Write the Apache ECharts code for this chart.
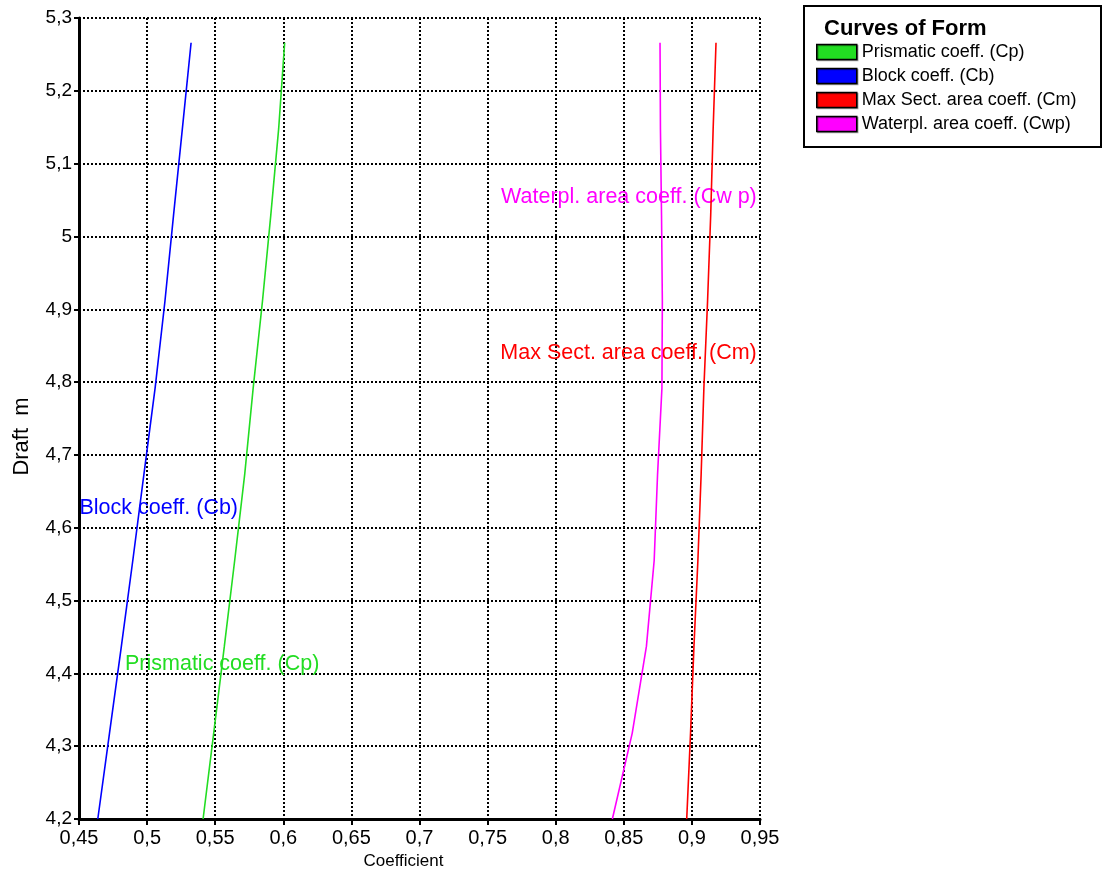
<!DOCTYPE html>
<html>
<head>
<meta charset="utf-8">
<script src="https://cdn.jsdelivr.net/npm/echarts@6/dist/echarts.min.js"></script>
<style>
html,body{margin:0;padding:0;background:#fff;}
#chart{width:1104px;height:875px;}
</style>
</head>
<body>
<div id="chart"></div>
<script>
// Draft values (m)
const drafts = [4.2, 4.318, 4.437, 4.555, 4.674, 4.792, 4.911, 5.029, 5.148, 5.266];
// Coefficients
const prismatic = [0.5411, 0.5489, 0.5567, 0.5643, 0.5717, 0.5779, 0.5847, 0.5908, 0.5966, 0.6010];
const block     = [0.4638, 0.4724, 0.4811, 0.4895, 0.4977, 0.5059, 0.5131, 0.5194, 0.5259, 0.5323];
const maxSect   = [0.8962, 0.8990, 0.9015, 0.9044, 0.9068, 0.9088, 0.9115, 0.9138, 0.9156, 0.9177];
const waterpl   = [0.8416, 0.8562, 0.8666, 0.8723, 0.8748, 0.8780, 0.8783, 0.8777, 0.8769, 0.8766];

const seriesNames = ['Prismatic coeff. (Cp)', 'Block coeff. (Cb)', 'Max Sect. area coeff. (Cm)', 'Waterpl. area coeff. (Cwp)'];
const inlineLabels = ['Prismatic coeff. (Cp)', 'Block coeff. (Cb)', 'Max Sect. area coeff. (Cm)', 'Waterpl. area coeff. (Cw p)'];
const xTicks = {min: 0.45, max: 0.95, step: 0.05};
const yTicks = {min: 4.2, max: 5.3, step: 0.1};
const legendTitle = 'Curves of Form';
const xName = 'Coefficient';
const yName = 'Draft  m';

const colors = ['#22dd22', '#0000ff', '#ff0000', '#ff00ff'];
const FONT = '"Liberation Sans", Arial, sans-serif';

function pairs(xs){ return xs.map((x,i)=>[x, drafts[i]]); }
function fmt(v){ return String(Math.round(v*100)/100).replace('.', ','); }

const labelSpots = [
  {coord:[0.4834, 4.413], pos:'right'},
  {coord:[0.45, 4.627], pos:'right'},
  {coord:[0.948, 4.840], pos:'left'},
  {coord:[0.948, 5.054], pos:'left'}
];
const dataSets = [prismatic, block, maxSect, waterpl];

const chart = echarts.init(document.getElementById('chart'), null, {renderer:'canvas'});
const option = {
  animation: false,
  backgroundColor: '#fff',
  title: {
    text: legendTitle, left: 819, top: 13,
    textStyle: {fontFamily: FONT, fontSize: 22, fontWeight: 'bold', color: '#000'}
  },
  graphic: [{
    type: 'rect', left: 803, top: 5, z: -1,
    shape: {width: 297, height: 141},
    style: {fill: '#fff', stroke: '#000', lineWidth: 2}
  }],
  legend: {
    orient: 'vertical', left: 811, top: 38,
    itemWidth: 40, itemHeight: 15, itemGap: 6,
    icon: 'rect',
    itemStyle: {borderColor: '#000', borderWidth: 1.5, shadowColor: 'rgba(0,0,0,0.35)', shadowOffsetX: 1, shadowOffsetY: 1},
    textStyle: {fontFamily: FONT, fontSize: 18, color: '#000'},
    data: seriesNames
  },
  grid: {left: 79, right: 344, top: 18, bottom: 56, containLabel: false},
  xAxis: {
    type: 'value', min: xTicks.min, max: xTicks.max, interval: xTicks.step,
    name: xName, nameLocation: 'middle', nameGap: 32,
    nameTextStyle: {fontFamily: FONT, fontSize: 17, color: '#000', padding: [0, 32, 0, 0]},
    axisLine: {show: true, onZero: false, lineStyle: {color: '#000', width: 3}},
    axisTick: {show: true, inside: false, length: 6, lineStyle: {color: '#000', width: 2}},
    axisLabel: {fontFamily: FONT, fontSize: 20, color: '#000', margin: 9, formatter: fmt, showMinLabel: true, showMaxLabel: true},
    splitLine: {show: true, lineStyle: {color: '#000', width: 2, type: [2, 2]}}
  },
  yAxis: {
    type: 'value', min: yTicks.min, max: yTicks.max, interval: yTicks.step,
    name: yName, nameLocation: 'middle', nameGap: 46, nameRotate: 90,
    nameTextStyle: {fontFamily: FONT, fontSize: 22, color: '#000', padding: [0, 36, 0, 0]},
    axisLine: {show: true, onZero: false, lineStyle: {color: '#000', width: 3}},
    axisTick: {show: true, inside: false, length: 5, lineStyle: {color: '#000', width: 2}},
    axisLabel: {fontFamily: FONT, fontSize: 19, color: '#000', margin: 7, formatter: fmt, showMinLabel: true, showMaxLabel: true},
    splitLine: {show: true, lineStyle: {color: '#000', width: 2, type: [2, 2]}}
  },
  series: seriesNames.map((name, i) => ({
    name: name,
    type: 'line',
    data: pairs(dataSets[i]),
    showSymbol: false,
    symbol: 'none',
    color: colors[i],
    lineStyle: {color: colors[i], width: 1.6},
    itemStyle: {color: colors[i]},
    z: 5,
    markPoint: {
      silent: true,
      symbol: 'circle', symbolSize: 1,
      itemStyle: {color: 'rgba(0,0,0,0)'},
      label: {
        show: true, position: labelSpots[i].pos, distance: 0,
        formatter: inlineLabels[i],
        fontFamily: FONT, fontSize: 21.5, color: colors[i]
      },
      data: [{coord: labelSpots[i].coord}]
    }
  }))
};
chart.setOption(option);
</script>
</body>
</html>
